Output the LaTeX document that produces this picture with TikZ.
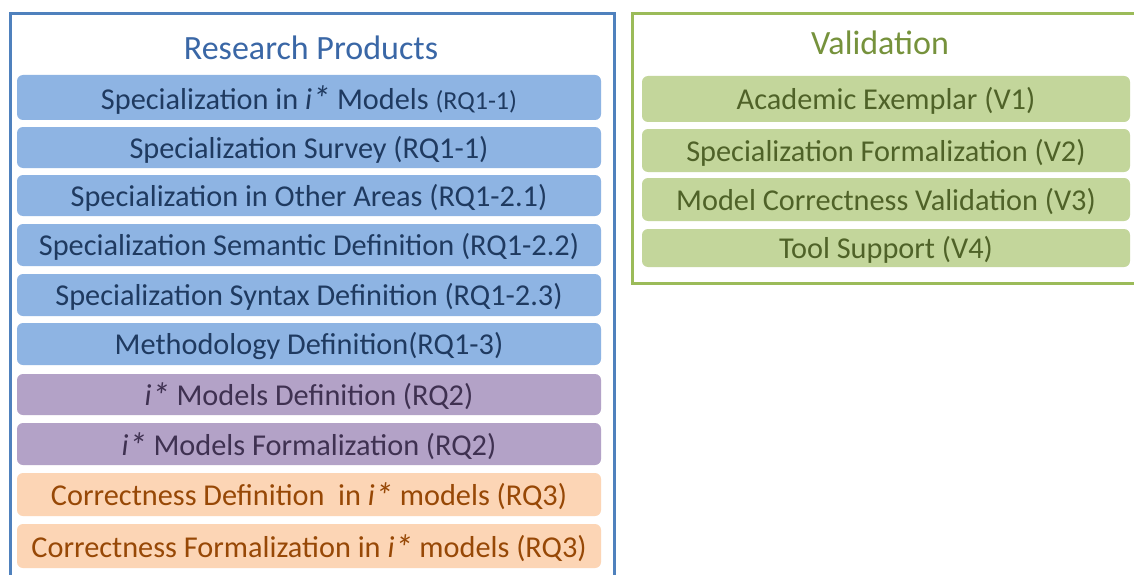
\documentclass[tikz,border=0pt]{standalone}
\usepackage{fontspec}
\setmainfont{Carlito}
\definecolor{frameblue}{HTML}{4F81BD}
\definecolor{titleblue}{HTML}{3A67A6}
\definecolor{barblue}{HTML}{8EB4E3}
\definecolor{txtblue}{HTML}{1F3A60}
\definecolor{barpurple}{HTML}{B3A2C7}
\definecolor{txtpurple}{HTML}{3F3151}
\definecolor{barorange}{HTML}{FCD5B5}
\definecolor{txtorange}{HTML}{974806}
\definecolor{framegreen}{HTML}{9BBB59}
\definecolor{titlegreen}{HTML}{76923C}
\definecolor{bargreen}{HTML}{C3D69B}
\definecolor{txtgreen}{HTML}{4F6228}
\tikzset{
  bar/.style={rounded corners=6pt, draw=none},
  bartext/.style={font=\fontsize{30.3}{35}\selectfont, inner sep=0pt, anchor=center},
  titletext/.style={font=\fontsize{34}{39}\selectfont, inner sep=0pt, anchor=center},
  frame/.style={line width=3pt}
}
\newcommand{\istar}{\textit{i\raisebox{-0.08em}{\scalebox{1.2}{*}}}}
\begin{document}
\begin{tikzpicture}[x=1pt,y=-1pt]
\useasboundingbox (0,0) rectangle (1134,575);
\clip (0,0) rectangle (1134,575);
\fill[white] (0,0) rectangle (1134,575);
% left frame
\draw[frame, draw=frameblue] (10,590) -- (10,14) -- (614,14) -- (614,590);
\node[titletext, text=titleblue] (rp) at (311,48) {Research Products};
% left bars
\fill[bar, barblue] (17,75) rectangle (601,120);
\node[bartext, text=txtblue] (b1) at (309,100) {Specialization in \istar{} Models {\fontsize{26}{30}\selectfont(RQ1-1)}};
\fill[bar, barblue] (17,127) rectangle (601,168);
\node[bartext, text=txtblue] (b2) at (309,150) {Specialization Survey (RQ1-1)};
\fill[bar, barblue] (17,175) rectangle (601,216);
\node[bartext, text=txtblue] (b3) at (309,198) {Specialization in Other Areas (RQ1-2.1)};
\fill[bar, barblue] (17,224) rectangle (601,266);
\node[bartext, text=txtblue] (b4) at (309,247) {Specialization Semantic Definition (RQ1-2.2)};
\fill[bar, barblue] (17,274) rectangle (601,316);
\node[bartext, text=txtblue] (b5) at (309,297) {Specialization Syntax Definition (RQ1-2.3)};
\fill[bar, barblue] (17,323) rectangle (601,365);
\node[bartext, text=txtblue] (b6) at (309,346) {Methodology Definition(RQ1-3)};
\fill[bar, barpurple] (17,374) rectangle (601,415);
\node[bartext, text=txtpurple] (b7) at (309,396) {\istar{} Models Definition (RQ2)};
\fill[bar, barpurple] (17,423) rectangle (601,465);
\node[bartext, text=txtpurple] (b8) at (309,446) {\istar{} Models Formalization (RQ2)};
\fill[bar, barorange] (17,473) rectangle (601,516);
\node[bartext, text=txtorange] (b9) at (309,496) {Correctness Definition\ \ in \istar{} models (RQ3)};
\fill[bar, barorange] (17,524) rectangle (601,568);
\node[bartext, text=txtorange] (b10) at (309,548) {Correctness Formalization in \istar{} models (RQ3)};
% right frame
\draw[frame, draw=framegreen] (1150,283) -- (632,283) -- (632,14) -- (1150,14);
\node[titletext, text=titlegreen] (val) at (880,43) {Validation};
\fill[bar, bargreen] (642,76) rectangle (1130,122);
\node[bartext, text=txtgreen] (v1) at (886,101) {Academic Exemplar (V1)};
\fill[bar, bargreen] (642,129) rectangle (1130,172);
\node[bartext, text=txtgreen] (v2) at (886,153) {Specialization Formalization (V2)};
\fill[bar, bargreen] (642,178) rectangle (1130,221);
\node[bartext, text=txtgreen] (v3) at (886,202) {Model Correctness Validation (V3)};
\fill[bar, bargreen] (642,229) rectangle (1130,267);
\node[bartext, text=txtgreen] (v4) at (886,250) {Tool Support (V4)};
\end{tikzpicture}
\end{document}
